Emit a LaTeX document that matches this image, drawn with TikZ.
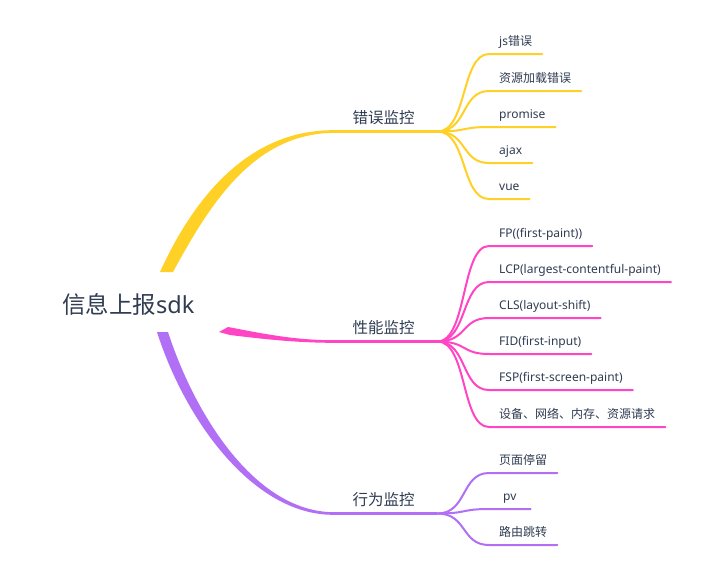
\documentclass[tikz,border=0pt]{standalone}
\usepackage{fontspec}
\setmainfont{Noto Sans CJK SC}
\newfontfamily\latin{Noto Sans}
\usetikzlibrary{positioning,calc}
\usepackage{xcolor}
\definecolor{mapYellow}{RGB}{255,208,38}
\definecolor{mapPink}{RGB}{255,69,196}
\definecolor{mapPurple}{RGB}{177,111,246}
\definecolor{mapText}{RGB}{47,60,82}

\begin{document}
\begin{tikzpicture}[x=1pt, y=-1pt,
    rootnode/.style={text=mapText, inner sep=0pt, anchor=base west,
      font=\fontsize{23.5}{28}\selectfont},
    topic/.style={text=mapText, minimum width=107pt, inner xsep=0pt, inner ysep=8pt,
      text depth=0pt, anchor=south west, font=\fontsize{15.5}{18}\selectfont},
    leaf/.style={text=mapText, inner xsep=10pt, inner ysep=8pt, text depth=0pt,
      anchor=south west, font=\fontsize{12}{14}\selectfont},
    bar/.style={line width=2.6pt},
    twig/.style={line width=2pt, line cap=round},
  ]
    \fill[white] (0,0) rectangle (704,576);
    \useasboundingbox (0,0) rectangle (704,576);

    % root and main topics
    \node[rootnode] (root) at (62,313) {信息上报{\latin sdk}};
    \node[topic] (err) at (330,131.5) {错误监控};
    \node[topic] (perf) at (330,341.5) {性能监控};
    \node[topic] (beh) at (330,513.5) {行为监控};

    \coordinate (errRoot) at (166,272);
    \coordinate (perfRoot) at (222,331);
    \coordinate (behRoot) at (162,332);

    % tapered main branches
    \fill[mapYellow] ($(errRoot)+(-6,0)$) .. controls +(35,-77) and +(-83,0) .. ($(err.south west)+(3,-1.3)$)
      -- ($(err.south west)+(3,1.3)$) .. controls +(-78,1.5) and +(39,-72) .. ($(errRoot)+(7,0)$) -- cycle;
    \fill[mapPink] ($(perfRoot)+(-3,1)$) -- ($(perfRoot)+(6,-4)$) .. controls +(32,6) and +(-40,0) .. ($(perf.south west)+(3,-1.3)$)
      -- ($(perf.south west)+(3,1.3)$) .. controls +(-40,0) and +(25,3) .. ($(perfRoot)+(8,4)$) -- cycle;
    \fill[mapPurple] ($(behRoot)+(-5,0)$) .. controls +(28,88) and +(-80,0) .. ($(beh.south west)+(3,1.3)$)
      -- ($(beh.south west)+(3,-1.3)$) .. controls +(-78,-1) and +(27,83) .. ($(behRoot)+(6,0)$) -- cycle;

    \draw[bar, mapYellow] (err.south west) -- (err.south east);
    \draw[bar, mapPink] (perf.south west) -- (perf.south east);
    \draw[bar, mapPurple] (beh.south west) -- (beh.south east);

    % error leaves
    \node[leaf] (js) at (489,54) {{\latin js}错误};
    \node[leaf] (res) at (489,91) {资源加载错误};
    \node[leaf] (prom) at (489,127) {\latin promise};
    \node[leaf] (ajax) at (489,163) {\latin ajax};
    \node[leaf] (vue) at (489,199) {\latin vue};
    \foreach \n in {js,res,prom,ajax,vue}
      \draw[twig, mapYellow] (err.south east) .. controls +(30,0) and +(-28,0) .. (\n.south west) -- (\n.south east);

    % performance leaves
    \node[leaf] (fp) at (489,246) {\latin FP((first-paint))};
    \node[leaf] (lcp) at (489,282) {\latin LCP(largest-contentful-paint)};
    \node[leaf] (cls) at (489,318) {\latin CLS(layout-shift)};
    \node[leaf] (fid) at (489,354) {\latin FID(first-input)};
    \node[leaf] (fsp) at (489,390) {\latin FSP(first-screen-paint)};
    \node[leaf] (dev) at (489,427) {设备、网络、内存、资源请求};
    \foreach \n in {fp,lcp,cls,fid,fsp,dev}
      \draw[twig, mapPink] (perf.south east) .. controls +(30,0) and +(-28,0) .. (\n.south west) -- (\n.south east);

    % behaviour leaves
    \node[leaf] (stay) at (489,473) {页面停留};
    \node[leaf, inner xsep=14pt] (pv) at (489,509) {\latin pv};
    \node[leaf] (route) at (489,545) {路由跳转};
    \foreach \n in {stay,pv,route}
      \draw[twig, mapPurple] (beh.south east) .. controls +(30,0) and +(-28,0) .. (\n.south west) -- (\n.south east);
  \end{tikzpicture}
\end{document}
